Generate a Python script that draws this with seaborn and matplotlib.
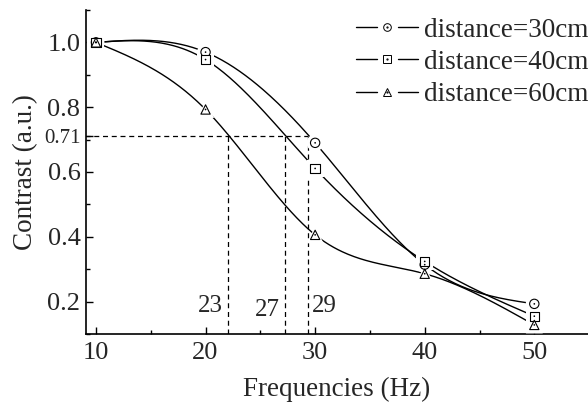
import numpy as np
import pandas as pd
import matplotlib
matplotlib.use("Agg")
import matplotlib.pyplot as plt
import seaborn as sns
from matplotlib.lines import Line2D
from matplotlib.legend_handler import HandlerBase
from matplotlib.ticker import MultipleLocator

# ---- data ----
freqs = [10, 20, 30, 40, 50]
c30 = [1.0, 0.970, 0.690, 0.314, 0.193]
c40 = [1.0, 0.947, 0.611, 0.324, 0.155]
c60 = [1.0, 0.793, 0.406, 0.286, 0.128]
series_names = ["distance=30cm", "distance=40cm", "distance=60cm"]
series_markers = ["o", "s", "^"]
level = 0.71
cut_x = [22.08, 27.26, 29.39]
cut_labels = ["23", "27", "29"]
xticks = [10, 20, 30, 40, 50]
yticks = [0.2, 0.4, 0.6, 0.8, 1.0]


def natural_spline(x, y, n=300):
    x = np.asarray(x, float)
    y = np.asarray(y, float)
    k = len(x)
    h = np.diff(x)
    A = np.zeros((k, k))
    b = np.zeros(k)
    A[0, 0] = 1
    A[-1, -1] = 1
    for i in range(1, k - 1):
        A[i, i - 1] = h[i - 1]
        A[i, i] = 2 * (h[i - 1] + h[i])
        A[i, i + 1] = h[i]
        b[i] = 6 * ((y[i + 1] - y[i]) / h[i] - (y[i] - y[i - 1]) / h[i - 1])
    M = np.linalg.solve(A, b)
    xs = np.linspace(x[0], x[-1], n)
    idx = np.clip(np.searchsorted(x, xs) - 1, 0, k - 2)
    x0, x1 = x[idx], x[idx + 1]
    hh = x1 - x0
    t0 = x1 - xs
    t1 = xs - x0
    ys = (M[idx] * t0 ** 3 / (6 * hh) + M[idx + 1] * t1 ** 3 / (6 * hh)
          + (y[idx] / hh - M[idx] * hh / 6) * t0
          + (y[idx + 1] / hh - M[idx + 1] * hh / 6) * t1)
    return xs, ys


class GapHandler(HandlerBase):
    """line — marker — line, with small gaps around the marker"""

    def create_artists(self, legend, orig_handle, xdescent, ydescent,
                       width, height, fontsize, trans):
        y = height / 2 - ydescent
        x0 = -xdescent
        mid = x0 + width / 2
        gap = width * 0.17
        l1 = Line2D([x0, mid - gap], [y, y], color="black", lw=1.0)
        l2 = Line2D([mid + gap, x0 + width], [y, y], color="black", lw=1.0)
        m = Line2D([mid], [y], ls="none", marker=orig_handle.get_marker(),
                   markersize=5.5, markerfacecolor="white",
                   markeredgecolor="black", markeredgewidth=0.7)
        d = Line2D([mid], [y], ls="none", marker=".", markersize=1.2,
                   color="black")
        arts = [l1, l2, m, d]
        for a in arts:
            a.set_transform(trans)
        return arts


sns.set_theme(style="ticks")
plt.rcParams["font.family"] = ["Liberation Serif", "DejaVu Serif"]
plt.rcParams["mathtext.fontset"] = "stix"

fig = plt.figure(figsize=(5.88, 4.03), dpi=100)
ax = fig.add_axes([86 / 588, 1 - 334 / 403, (588 - 86) / 588, (334 - 10) / 403])

curves = []
points = []
for name, vals in zip(series_names, [c30, c40, c60]):
    xs, ys = natural_spline(freqs, vals)
    curves.append(pd.DataFrame({"f": xs, "c": ys, "s": name}))
    points.append(pd.DataFrame({"f": freqs, "c": vals, "s": name}))
curves = pd.concat(curves)
points = pd.concat(points)

pal = {n: "black" for n in series_names}
sns.lineplot(data=curves, x="f", y="c", hue="s", palette=pal, estimator=None,
             sort=False, lw=1.0, legend=False, ax=ax, zorder=2)
mk = dict(zip(series_names, series_markers))
# white halo to create gaps around markers
sns.scatterplot(data=points, x="f", y="c", style="s", markers=mk, s=150,
                color="white", edgecolor="none", linewidth=0, legend=False,
                ax=ax, zorder=3)
sns.scatterplot(data=points, x="f", y="c", style="s", markers=mk, s=45,
                facecolor="white", edgecolor="black", linewidth=0.8,
                legend=False, ax=ax, zorder=4)
sns.scatterplot(data=points, x="f", y="c", s=1.5, color="black",
                edgecolor="none", legend=False, ax=ax, zorder=5)

# dashed guides
ax.plot([9.0, max(cut_x)], [level, level], ls=(0, (4, 3)), color="black", lw=0.9)
for cx in cut_x:
    ax.plot([cx, cx], [0.1, level], ls=(0, (4, 3)), color="black", lw=0.9)
ax.text(cut_x[0] - 0.5, 0.185, cut_labels[0], ha="right", va="center", fontsize=18)
ax.text(cut_x[1] - 0.5, 0.175, cut_labels[1], ha="right", va="center", fontsize=18)
ax.text(cut_x[2] + 0.3, 0.185, cut_labels[2], ha="left", va="center", fontsize=18)

ax.set_xlim(9.09, 54.9)
ax.set_ylim(0.1, 1.1)
ax.set_xticks(xticks)
ax.set_yticks(yticks + [level])
ax.set_yticklabels([f"{v:.1f}" for v in yticks] + [f"{level:.2f}"])
ax.xaxis.set_minor_locator(MultipleLocator(5))
ax.yaxis.set_minor_locator(MultipleLocator(0.1))
ax.tick_params(which="both", direction="in", color="black", width=1.0)
ax.tick_params(which="major", length=5, labelsize=19)
ax.tick_params(axis="y", which="major", pad=4)
ax.tick_params(axis="x", which="major", pad=6)
ax.tick_params(which="minor", length=3)
for lab in ax.get_yticklabels():
    if lab.get_text() == "0.71":
        lab.set_fontsize(15)
ax.set_xlabel("Frequencies (Hz)", fontsize=19.5, labelpad=9)
ax.set_ylabel("Contrast (a.u.)", fontsize=19.5, labelpad=4)
sns.despine(ax=ax, top=True, right=True)
for sp in ["left", "bottom"]:
    ax.spines[sp].set_linewidth(1.2)
    ax.spines[sp].set_color("black")

handles = [Line2D([], [], marker=m) for m in series_markers]
ax.legend(handles, series_names, loc="upper right", bbox_to_anchor=(1.022, 1.01),
          frameon=False, fontsize=19.5, handlelength=2.3, handletextpad=0.2,
          labelspacing=0.27, borderaxespad=0,
          handler_map={Line2D: GapHandler()})

fig.savefig("out.png", dpi=100)
